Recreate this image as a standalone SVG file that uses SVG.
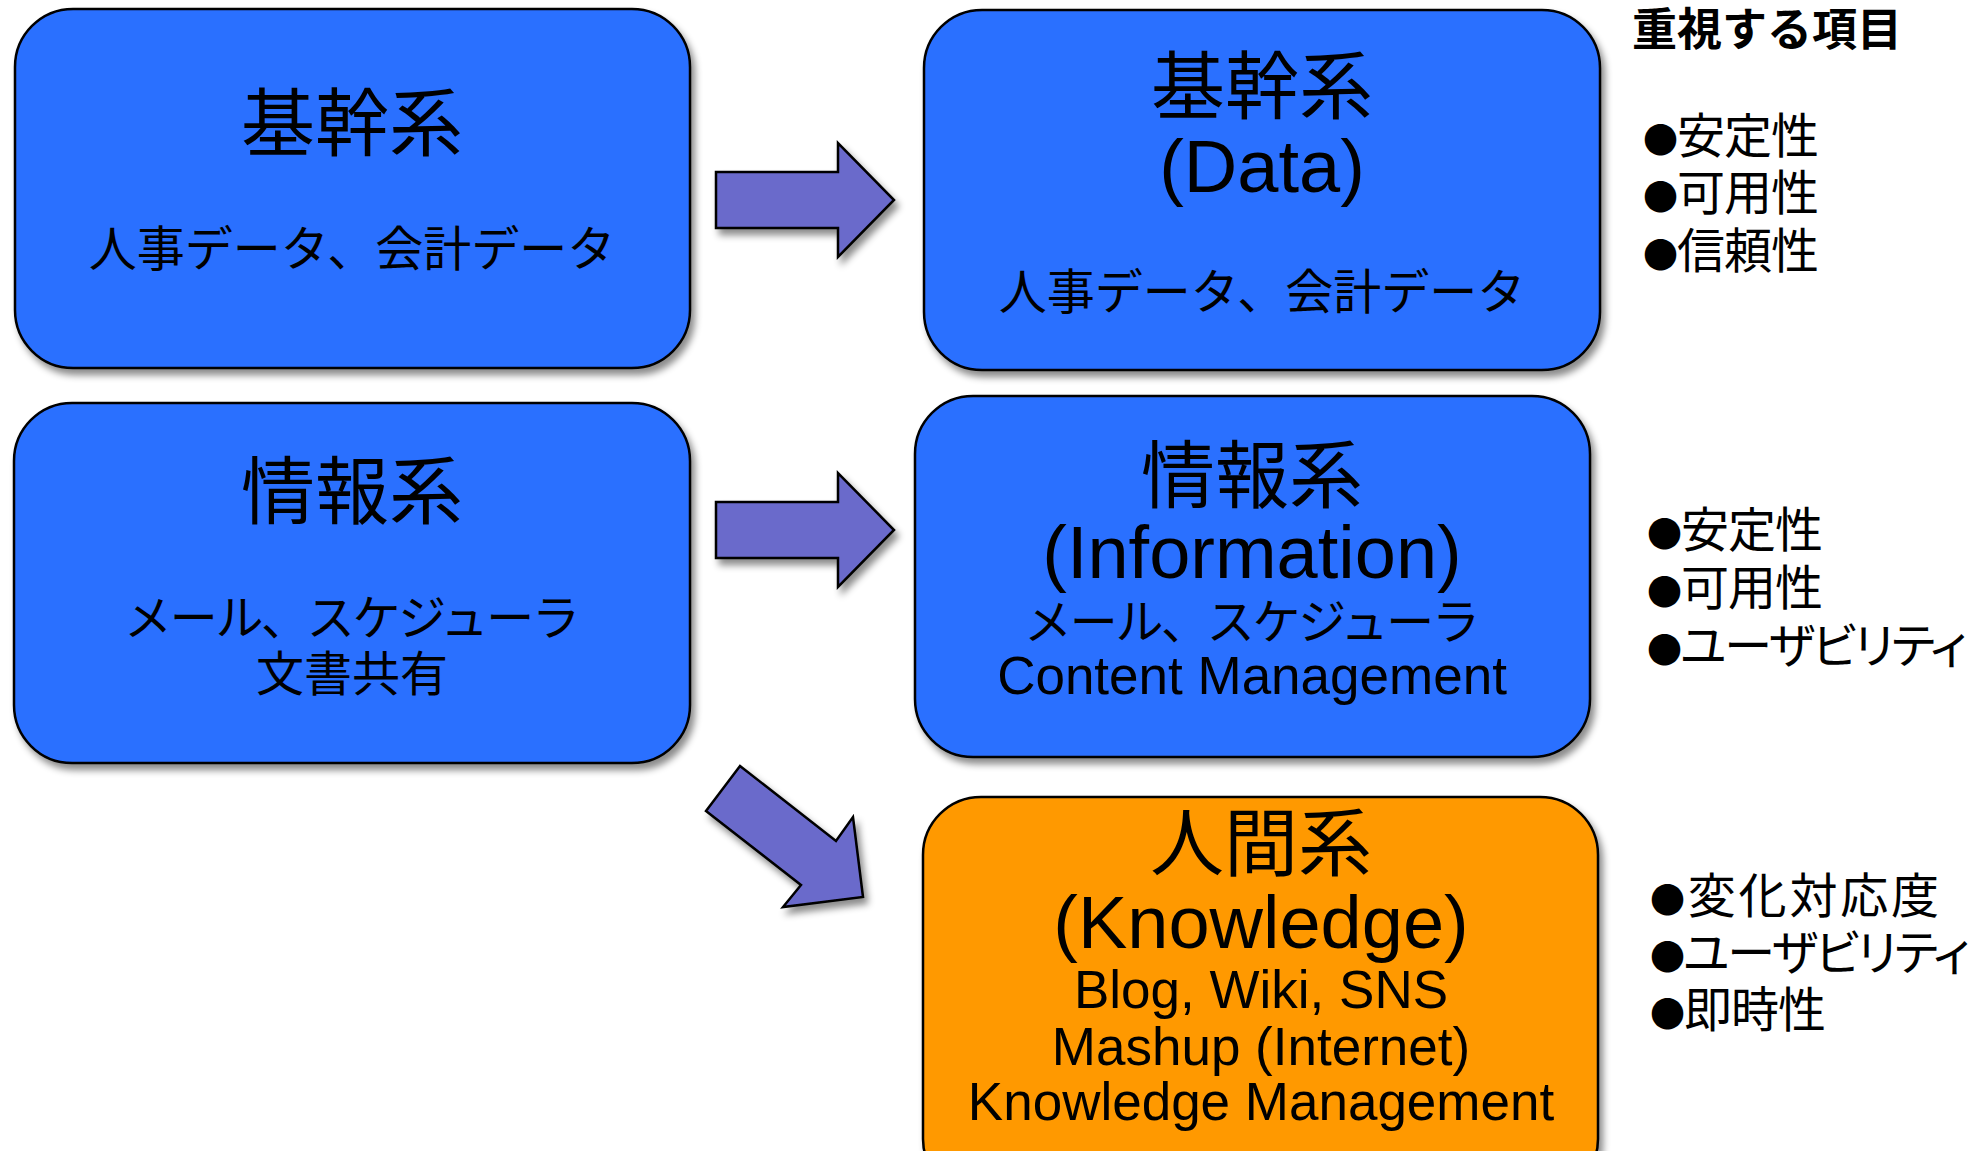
<svg xmlns="http://www.w3.org/2000/svg" width="1984" height="1151" viewBox="0 0 1984 1151">
  <defs>
    <filter id="shadow" x="-10%" y="-10%" width="125%" height="130%">
      <feDropShadow dx="4" dy="6" stdDeviation="3.5" flood-color="#000" flood-opacity="0.45"/>
    </filter>
    <style>
      .box { stroke: #000; stroke-width: 2.5; filter: url(#shadow); }
      .blue { fill: #2B6FFF; }
      .orange { fill: #FF9900; }
      .arrow { fill: #6B6BCB; stroke: #000; stroke-width: 2.5; stroke-linejoin: miter; filter: url(#shadow); }
      text { font-family: "Liberation Sans", "Noto Sans CJK JP", sans-serif; fill: #000; }
      .c { text-anchor: middle; }
      .title { font-size: 74px; }
      .sub { font-size: 48px; }
      .lat { font-size: 53px; }
      .head { font-size: 45px; font-weight: 700; font-family: "Noto Sans CJK JP", sans-serif; }
      .item { font-size: 48px; font-family: "Noto Sans CJK JP", sans-serif; }
      .kana { font-feature-settings: "palt"; }
      .dot { font-size: 35px; }
    </style>
  </defs>

  <rect width="1984" height="1151" fill="#fff"/>

  <!-- connectors -->
  <g id="connectors">
    <polygon id="arrow-core" class="arrow" points="716,172 838,172 838,143 894,200 838,257 838,228 716,228"/>
    <polygon id="arrow-info" class="arrow" points="716,502 838,502 838,473 894,530 838,587 838,558 716,558"/>
    <polygon id="arrow-human" class="arrow" points="740,766 836,841 853,817 863,897 783,907 801,885 706,811"/>
  </g>

  <!-- left column -->
  <g id="node-core-old">
    <rect class="box blue" x="15" y="9" width="675" height="359" rx="58" ry="58"/>
    <text class="c title" x="352" y="150">基幹系</text>
    <text class="c sub" x="352" y="266">人事データ、会計データ</text>
  </g>

  <g id="node-info-old">
    <rect class="box blue" x="14" y="403" width="676" height="360" rx="58" ry="58"/>
    <text class="c title" x="352" y="518">情報系</text>
    <text class="c sub" x="352" y="635" textLength="456" lengthAdjust="spacing">メール、スケジューラ</text>
    <text class="c sub" x="352" y="691">文書共有</text>
  </g>

  <!-- right column -->
  <g id="node-data">
    <rect class="box blue" x="924" y="10" width="676" height="360" rx="58" ry="58"/>
    <text class="c title" x="1262" y="113">基幹系</text>
    <text class="c title" x="1262" y="192">(Data)</text>
    <text class="c sub" x="1262" y="309">人事データ、会計データ</text>
  </g>

  <g id="node-information">
    <rect class="box blue" x="915" y="396" width="675" height="361" rx="58" ry="58"/>
    <text class="c title" x="1252" y="502">情報系</text>
    <text class="c title" x="1252" y="578">(Information)</text>
    <text class="c sub" x="1252" y="639" textLength="456" lengthAdjust="spacing">メール、スケジューラ</text>
    <text class="c lat" x="1252" y="694">Content Management</text>
  </g>

  <g id="node-knowledge">
    <rect class="box orange" x="923" y="797" width="675" height="400" rx="58" ry="58"/>
    <text class="c title" x="1261" y="870">人間系</text>
    <text class="c title" x="1261" y="948">(Knowledge)</text>
    <text class="c lat" x="1261" y="1008">Blog, Wiki, SNS</text>
    <text class="c lat" x="1261" y="1065">Mashup (Internet)</text>
    <text class="c lat" x="1261" y="1120">Knowledge Management</text>
  </g>

  <!-- priorities per tier -->
  <g id="label-priorities-data">
    <text class="head" x="1632" y="46">重視する項目</text>
    <text class="item" x="1643" y="153" textLength="176" lengthAdjust="spacing"><tspan class="dot">●</tspan>安定性</text>
    <text class="item" x="1643" y="210" textLength="176" lengthAdjust="spacing"><tspan class="dot">●</tspan>可用性</text>
    <text class="item" x="1643" y="268" textLength="176" lengthAdjust="spacing"><tspan class="dot">●</tspan>信頼性</text>
  </g>

  <g id="label-priorities-information">
    <text class="item" x="1647" y="547" textLength="176" lengthAdjust="spacing"><tspan class="dot">●</tspan>安定性</text>
    <text class="item" x="1647" y="605" textLength="176" lengthAdjust="spacing"><tspan class="dot">●</tspan>可用性</text>
    <text class="item kana" x="1647" y="663" textLength="320" lengthAdjust="spacing"><tspan class="dot">●</tspan>ユーザビリティ</text>
  </g>

  <g id="label-priorities-knowledge">
    <text class="item" x="1650" y="913" textLength="289" lengthAdjust="spacing"><tspan class="dot">●</tspan>変化対応度</text>
    <text class="item kana" x="1650" y="970" textLength="320" lengthAdjust="spacing"><tspan class="dot">●</tspan>ユーザビリティ</text>
    <text class="item" x="1650" y="1027" textLength="176" lengthAdjust="spacing"><tspan class="dot">●</tspan>即時性</text>
  </g>
</svg>
